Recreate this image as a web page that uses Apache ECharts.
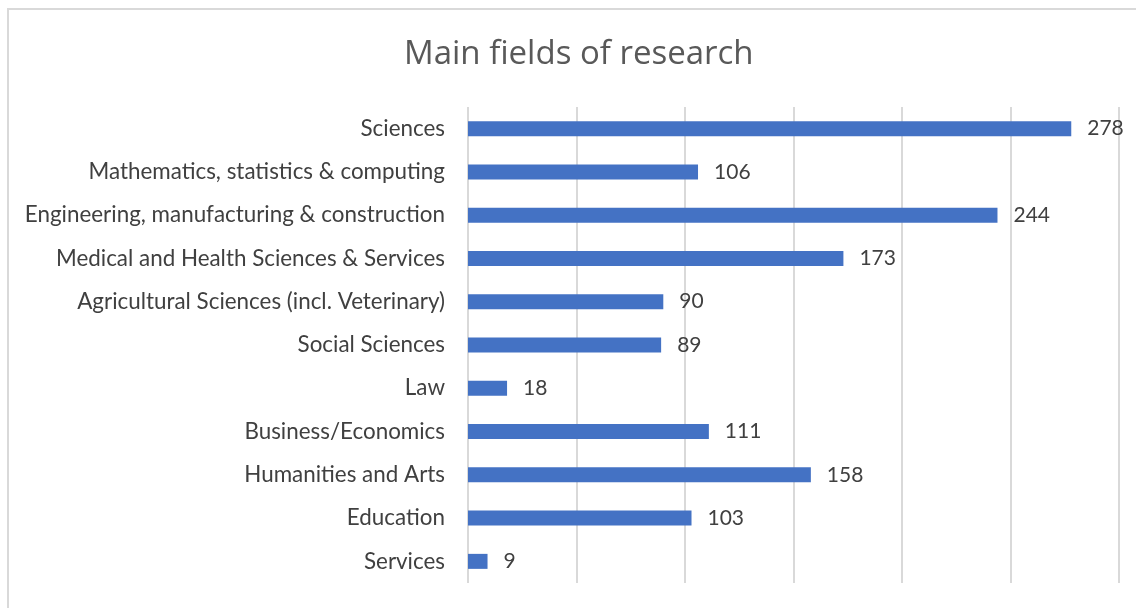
<!DOCTYPE html>
<html>
<head>
<meta charset="utf-8">
<script src="https://cdn.jsdelivr.net/npm/echarts@6/dist/echarts.min.js"></script>
<style>
  html, body { margin: 0; padding: 0; background: #fff; overflow: hidden; }
  #frame { position: absolute; left: 7px; top: 8px; width: 1200px; height: 700px;
           border-left: 2px solid #d9d9d9; border-top: 2px solid #d9d9d9; }
  #chart { position: absolute; left: 0; top: 0; width: 1136px; height: 608px; }
</style>
</head>
<body>
<div id="frame"></div>
<div id="chart"></div>
<script>
  // categories listed top to bottom as in the picture
  const fields = [
    "Sciences",
    "Mathematics, statistics & computing",
    "Engineering, manufacturing & construction",
    "Medical and Health Sciences & Services",
    "Agricultural Sciences (incl. Veterinary)",
    "Social Sciences",
    "Law",
    "Business/Economics",
    "Humanities and Arts",
    "Education",
    "Services"
  ];
  const counts = [278, 106, 244, 173, 90, 89, 18, 111, 158, 103, 9];

  const chart = echarts.init(document.getElementById("chart"));

  const option = {
    animation: false,
    title: {
      text: "Main fields of research",
      left: 399,
      top: 33,
      textStyle: {
        fontFamily: "Open Sans",
        fontWeight: "normal",
        fontSize: 33,
        color: "#595959"
      }
    },
    grid: { left: 468, right: 17, top: 107, bottom: 25, containLabel: false },
    xAxis: {
      type: "value",
      min: 0,
      max: 300,
      interval: 50,
      axisLabel: { show: false },
      axisLine: { show: false },
      axisTick: { show: false },
      splitLine: { show: true, lineStyle: { color: "#d9d9d9", width: 2 } }
    },
    yAxis: {
      type: "category",
      inverse: true,
      data: fields,
      axisLine: { show: false },
      axisTick: { show: false },
      axisLabel: {
        margin: 23,
        fontFamily: "Lato",
        fontSize: 22.4,
        color: "#404040"
      }
    },
    series: [
      {
        type: "bar",
        data: counts,
        barWidth: 15,
        itemStyle: { color: "#4472c4" },
        label: {
          show: true,
          position: "right",
          distance: 16,
          fontFamily: "Lato",
          fontSize: 21,
          color: "#404040"
        }
      }
    ]
  };

  chart.setOption(option);
</script>
</body>
</html>
